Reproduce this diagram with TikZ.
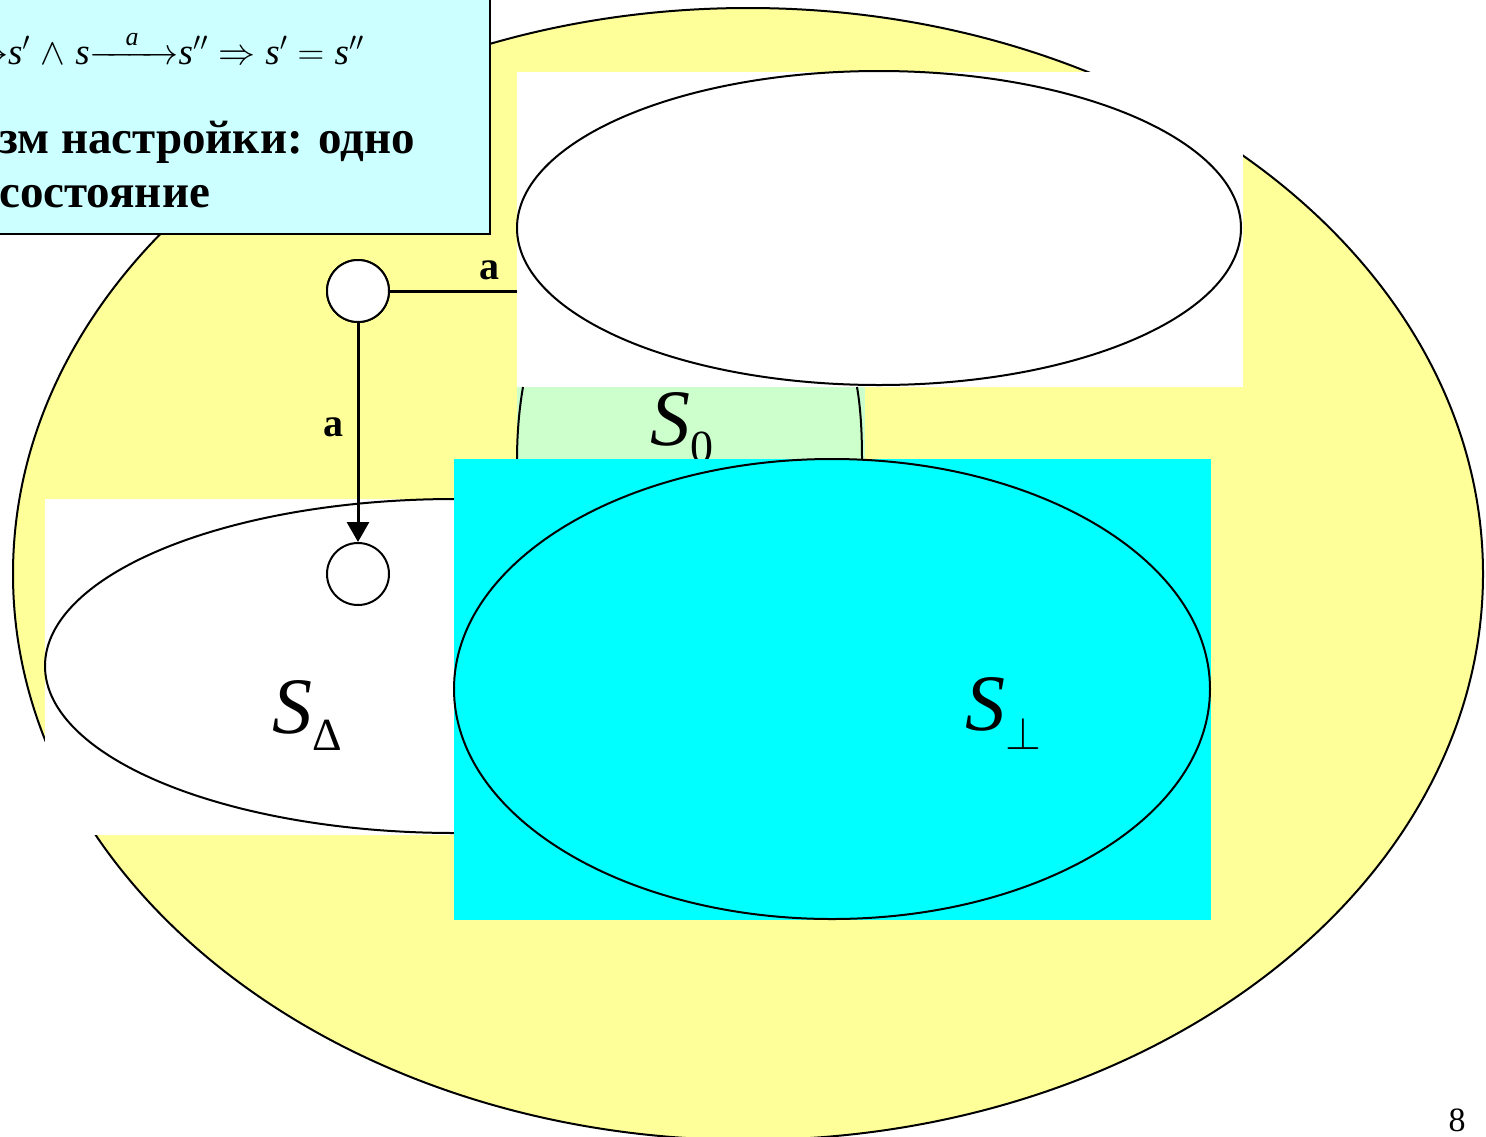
\RequirePackage{fix-cm}
\documentclass[tikz,border=0pt]{standalone}
\usepackage{amsmath}
\usepackage{fontspec}
\setmainfont{Liberation Serif}
\usetikzlibrary{arrows.meta}
\definecolor{yel}{HTML}{FFFF99}
\definecolor{lcyan}{HTML}{CCFFFF}
\definecolor{lgreen}{HTML}{CCFFCC}
\definecolor{cyn}{HTML}{00FFFF}
\tikzset{
  border/.style={draw=black,line width=2pt},
  statec/.style={circle,draw=black,line width=2pt,fill=white,minimum size=62pt,inner sep=0pt},
  lbl/.style={font=\fontsize{40}{40}\selectfont\bfseries,inner sep=0pt},
  setlbl/.style={inner sep=0pt,anchor=base west},
  conn/.style={line width=3pt}
}
\newcommand{\bigS}{{\fontsize{80}{80}\selectfont\itshape S}}
\newcommand{\subf}{\fontsize{46}{46}\selectfont}
\newcommand{\vs}{\textit{s}}
\newcommand{\gp}{\mskip5mu}
\begin{document}
\begin{tikzpicture}[x=1pt,y=-1pt]
\useasboundingbox (0,0) rectangle (1486,1136);
\clip (0,0) rectangle (1486,1136);
% big yellow ellipse
\fill[white] (0,0) rectangle (1486,1136);
\path[border,fill=yel] (748,574) ellipse [x radius=735pt, y radius=566pt];
% info box
\path[border,fill=lcyan] (-10,-10) rectangle (490,234);
\node[anchor=base east,inner sep=0pt,font=\fontsize{37}{37}\selectfont] (formula) at (364,64)
  {$\mathord{\rightarrow}\vs'\gp\mathord{\wedge}\gp\vs\mathord{\xrightarrow{\hspace{28pt}\textit{a}\hspace{28pt}}}\vs''\gp\mathord{\Rightarrow}\gp\vs'\gp\mathord{=}\gp\vs''$};
\node[anchor=base west,inner sep=0pt,font=\fontsize{47}{47}\selectfont\bfseries] (line2) at (-1,153) {зм настройки: одно};
\node[anchor=base west,inner sep=0pt,font=\fontsize{47}{47}\selectfont\bfseries] (line3) at (-1,207) {состояние};
% top white set
\fill[white] (517,72) rectangle (1243,387);
\path[border,fill=white] (879,228) ellipse [x radius=362pt, y radius=157pt];
% S0 region
\fill[lgreen] (517,387) rectangle (865,460);
\draw[border] (523,387) .. controls (519,410) and (517,435) .. (517,460);
\draw[border] (857,387) .. controls (861,410) and (862,435) .. (862,460);
\node[setlbl] (s0) at (650,445) {\bigS\raisebox{-17pt}{\subf 0}};
% horizontal connector (behind left set)
\node[statec] (c1) at (358,291) {};
\coordinate (hend) at (517,291);
\draw[conn] (c1.east) -- (hend);
\node[lbl] (a1) at (489,270) {a};
% left white set
\fill[white] (45,499) rectangle (454,835);
\path[border,fill=white] (455,666) ellipse [x radius=410pt, y radius=167pt];
\node[setlbl] (sd) at (272,733) {\bigS\raisebox{-17pt}{\subf Δ}};
% cyan set
\fill[cyn] (454,459) rectangle (1211,920);
\path[border,fill=cyn] (832,689) ellipse [x radius=378pt, y radius=230pt];
\node[setlbl] (sb) at (965,730) {\bigS\raisebox{-19pt}{\subf$\perp$}};
% states
\node[statec] (c1b) at (358,291) {};
\node[statec] (c2) at (358,574) {};
\draw[conn,-{Triangle[length=20pt,width=22pt]}] (c1b.south) -- (c2.north);
\node[lbl] (a2) at (333,427) {a};
% page number
\node[anchor=base,inner sep=0pt,font=\fontsize{34}{34}\selectfont] (pg) at (1457,1131) {8};
\end{tikzpicture}
\end{document}
